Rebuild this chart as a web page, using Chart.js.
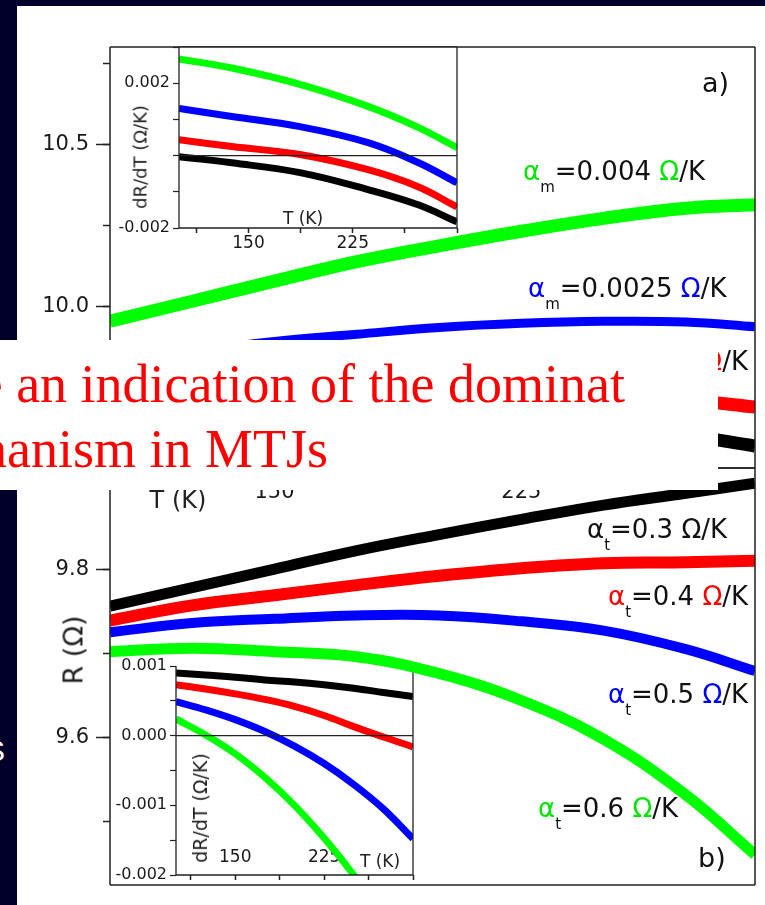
<!DOCTYPE html>
<html>
<head>
<meta charset="utf-8">
<script src="https://cdn.jsdelivr.net/npm/chart.js@4.4.0/dist/chart.umd.min.js"></script>
<style>
html, body { margin: 0; padding: 0; }
body { width: 765px; height: 905px; position: relative; overflow: hidden; background: #00002b; font-family: 'DejaVu Sans', sans-serif; }
#paper { position: absolute; left: 17px; top: 6px; right: 0; bottom: 0; background: #fff; }
canvas { position: absolute; }
.lab { position: absolute; font-size: 26px; line-height: 26px; color: #111; white-space: nowrap; z-index: 5; }
.lab sub { font-size: 15px; line-height: 0; vertical-align: -12px; }
.g { color: #00e600; } .b { color: #0000ff; } .r { color: #ff0000; }
.rot { position: absolute; transform: translate(-50%, -50%) rotate(-90deg); white-space: nowrap; color: #222; z-index: 5; }
.ctr { position: absolute; transform: translate(-50%, -50%); white-space: nowrap; color: #222; z-index: 5; }
#note { position: absolute; left: 0; top: 340px; width: 718px; height: 150px; background: #fff; overflow: hidden; z-index: 10; }
.nl { position: absolute; font-family: 'Liberation Serif', serif; font-size: 54px; line-height: 54px; color: #ff0000; white-space: nowrap; }
</style>
</head>
<body>
<div id="paper"></div>
<div style="position:absolute; left:-15px; top:734px; color:#fff; font:30px 'Liberation Sans';">S</div>

<canvas id="insetB" width="310" height="250" style="left:110px; top:645px; z-index:1"></canvas>
<canvas id="mainB" width="765" height="465" style="left:0; top:440px; z-index:2"></canvas>
<canvas id="mainA" width="765" height="520" style="left:0; top:0; z-index:3"></canvas>
<canvas id="insetA" width="350" height="232" style="left:115px; top:30px; z-index:4"></canvas>

<!-- curve labels -->
<div class="lab" style="left:702px; top:69px; font-size:27px; line-height:27px;">a)</div>
<div class="lab" style="left:698px; top:844px; font-size:27px; line-height:27px;">b)</div>
<div class="lab" style="left:523px; top:158px;"><span class="g">α</span><sub>m</sub>=0.004 <span class="g">Ω</span>/K</div>
<div class="lab" style="left:528px; top:275px;"><span class="b">α</span><sub>m</sub>=0.0025 <span class="b">Ω</span>/K</div>
<div class="lab" style="left:566px; top:348px;"><span class="r">α</span><sub>m</sub>=0.001 <span class="r">Ω</span>/K</div>
<div class="lab" style="left:587px; top:516px;">α<sub>t</sub>=0.3 Ω/K</div>
<div class="lab" style="left:608px; top:583px;"><span class="r">α</span><sub>t</sub>=0.4 <span class="r">Ω</span>/K</div>
<div class="lab" style="left:608px; top:681px;"><span class="b">α</span><sub>t</sub>=0.5 <span class="b">Ω</span>/K</div>
<div class="lab" style="left:538px; top:795px;"><span class="g">α</span><sub>t</sub>=0.6 <span class="g">Ω</span>/K</div>

<!-- axis titles -->
<div class="rot" style="left:73px; top:650px; font-size:27px;">R (Ω)</div>
<div class="rot" style="left:140px; top:157px; font-size:18px;">dR/dT (Ω/K)</div>
<div class="rot" style="left:200px; top:808px; font-size:19px;">dR/dT (Ω/K)</div>
<div class="ctr" style="left:178px; top:500px; font-size:24px;">T (K)</div>
<div class="ctr" style="left:303px; top:218px; font-size:17px;">T (K)</div>
<div class="ctr" style="left:380px; top:861px; font-size:17px;">T (K)</div>

<div id="note">
  <div class="nl" style="top:17px; right:93px;">could be an indication of the dominat</div>
  <div class="nl" style="top:82px; right:390px;">scattering mechanism in MTJs</div>
</div>

<script>
// temperature grid of the main panels (K)
const tMain = [100, 125, 150, 175, 200, 225, 250, 275, 296];
// panel a) R (Ohm)
const aGreen = [9.953, 10.015, 10.077, 10.137, 10.186, 10.231, 10.271, 10.302, 10.313];
const aBlue  = [9.833, 9.860, 9.891, 9.913, 9.934, 9.947, 9.953, 9.951, 9.936];
const aRed   = [9.725, 9.734, 9.741, 9.744, 9.744, 9.739, 9.728, 9.711, 9.688];
const aBlack = [9.702, 9.700, 9.695, 9.685, 9.674, 9.655, 9.631, 9.601, 9.568];
// panel b) R (Ohm)
const bBlack = [9.756, 9.778, 9.800, 9.822, 9.841, 9.859, 9.876, 9.890, 9.902];
const bRed   = [9.739, 9.757, 9.769, 9.781, 9.792, 9.801, 9.807, 9.808, 9.810];
const bBlue  = [9.725, 9.736, 9.741, 9.745, 9.745, 9.738, 9.727, 9.705, 9.679];
const bGreen = [9.702, 9.706, 9.702, 9.696, 9.676, 9.644, 9.598, 9.532, 9.461];

// inset a) dR/dT (Ohm/K)
const tInsA   = [100, 138, 187, 236, 272, 300];
const iaGreen = [0.00267, 0.00242, 0.00197, 0.00136, 0.00078, 0.00022];
const iaBlue  = [0.0013, 0.00108, 0.0008, 0.00036, -0.00019, -0.00075];
const iaRed   = [0.00044, 0.00025, 0.00003, -0.00039, -0.00086, -0.00142];
const iaBlack = [-0.00003, -0.0002, -0.00047, -0.00094, -0.00136, -0.00183];
// inset b) dR/dT (Ohm/K)
const tInsB   = [100, 125, 150, 175, 200, 225, 250, 275, 300];
const ibBlack = [0.0009, 0.00087, 0.00084, 0.0008, 0.00077, 0.00073, 0.00068, 0.00062, 0.00056];
const ibRed   = [0.00073, 0.00067, 0.0006, 0.00052, 0.00042, 0.00029, 0.00013, -0.00002, -0.00016];
const ibBlue  = [0.00049, 0.00037, 0.00023, 0.00006, -0.00015, -0.0004, -0.0007, -0.00105, -0.00148];
const ibGreen = [0.00024, 0.00001, -0.00026, -0.0006, -0.001, -0.00147, -0.002, -0.0026];

const tLabelled = [150, 225];

Chart.defaults.font.family = "'DejaVu Sans', sans-serif";
Chart.defaults.color = '#1a1a1a';

// draws the box round the plot area, the zero line and the white inset background
const framePlugin = {
    id: 'frame',
    beforeDraw(chart, args, opts) {
        if (!opts.fill) return;
        const a = chart.chartArea, c = chart.ctx;
        c.save();
        c.fillStyle = opts.fill;
        c.fillRect(a.left, a.top, a.right - a.left, a.bottom - a.top);
        c.restore();
    },
    afterDatasetsDraw(chart, args, opts) {
        const a = chart.chartArea, c = chart.ctx, s = opts.sides || '';
        c.save();
        c.strokeStyle = '#222';
        c.lineWidth = opts.width || 1.5;
        c.beginPath();
        if (opts.zero) {
            const y0 = chart.scales.y.getPixelForValue(0);
            c.moveTo(a.left, y0); c.lineTo(a.right, y0);
        }
        if (s.includes('t')) { c.moveTo(a.left, a.top); c.lineTo(a.right, a.top); }
        if (s.includes('b')) { c.moveTo(a.left, a.bottom); c.lineTo(a.right, a.bottom); }
        if (s.includes('l')) { c.moveTo(a.left, a.top); c.lineTo(a.left, a.bottom); }
        if (s.includes('r')) { c.moveTo(a.right, a.top); c.lineTo(a.right, a.bottom); }
        c.stroke();
        c.restore();
    }
};

function line(ts, vs, color, w) {
    return {
        data: vs.map((v, i) => ({ x: ts[i], y: v })),
        borderColor: color,
        backgroundColor: color,
        borderWidth: w,
        pointRadius: 0,
        tension: 0.4,
        clip: 0
    };
}

const fixW = w => s => { s.width = w; };
const fixH = h => s => { s.height = h; };

const common = {
    responsive: false,
    animation: false,
    devicePixelRatio: 1,
    events: [],
};

function tAxis(extra) {
    return Object.assign({
        type: 'linear', min: 100, max: 296,
        ticks: {
            stepSize: 37.5, includeBounds: false, autoSkip: false, maxRotation: 0,
            callback: v => tLabelled.includes(v) ? String(v) : ''
        },
        grid: { drawOnChartArea: false, tickLength: 8, tickColor: '#222', tickWidth: 1.5 },
        border: { display: false }
    }, extra);
}

function rAxes(min, max, major, minor) {
    return {
        y: {
            position: 'left', weight: 1, min: min, max: max,
            ticks: { stepSize: major, includeBounds: false, autoSkip: false, padding: 7,
                font: { size: 21 }, callback: v => v.toFixed(1) },
            grid: { drawOnChartArea: false, tickLength: 14, tickColor: '#222', tickWidth: 1.5 },
            border: { display: false },
            afterFit: fixW(110)
        },
        yMinor: {
            position: 'left', weight: 0, min: min, max: max,
            ticks: { stepSize: minor, includeBounds: false, autoSkip: false, callback: () => '' },
            grid: { drawOnChartArea: false, tickLength: 7, tickColor: '#222', tickWidth: 1.5 },
            border: { display: false },
            afterFit: fixW(0)
        }
    };
}

// panel a)
const xA = tAxis({ afterFit: fixH(52) });
xA.ticks.padding = 4;
xA.ticks.font = { size: 21 };
new Chart(document.getElementById('mainA'), {
    type: 'line',
    data: { datasets: [
        line(tMain, aBlack, '#000000', 13),
        line(tMain, aRed, '#ff0000', 13),
        line(tMain, aBlue, '#0000ff', 9),
        line(tMain, aGreen, '#00ff00', 13)
    ] },
    options: Object.assign({}, common, {
        layout: { padding: { top: 47, right: 10, left: 0, bottom: 0 }, autoPadding: false },
        plugins: { legend: { display: false }, tooltip: { enabled: false }, frame: { sides: 'tlbr' } },
        scales: Object.assign({ x: xA }, rAxes(9.5, 10.8, 0.5, 0.25))
    }),
    plugins: [framePlugin]
});

// panel b)
new Chart(document.getElementById('mainB'), {
    type: 'line',
    data: { datasets: [
        line(tMain, bBlack, '#000000', 11),
        line(tMain, bRed, '#ff0000', 12),
        line(tMain, bBlue, '#0000ff', 10),
        line(tMain, bGreen, '#00ff00', 11)
    ] },
    options: Object.assign({}, common, {
        layout: { padding: { top: 28, right: 10, left: 0, bottom: 20 }, autoPadding: false },
        plugins: { legend: { display: false }, tooltip: { enabled: false }, frame: { sides: 'tlbr' } },
        scales: Object.assign({ x: { type: 'linear', min: 100, max: 296, display: false } },
            rAxes(9.425, 9.92, 0.2, 0.1))
    }),
    plugins: [framePlugin]
});

// inset axes
function insetY(min, max, step, width, show) {
    return {
        min: min, max: max,
        ticks: { stepSize: step, includeBounds: false, autoSkip: false, padding: 3,
            font: { size: 16 }, callback: v => show(v) ? v.toFixed(3) : '' },
        grid: { drawOnChartArea: false, tickLength: 6, tickColor: '#222', tickWidth: 1.2 },
        border: { display: false },
        afterFit: fixW(width)
    };
}

const xIa = tAxis({ max: 300, afterFit: fixH(34) });
xIa.ticks.padding = 0;
xIa.ticks.font = { size: 17 };
xIa.grid.tickLength = 5;
new Chart(document.getElementById('insetA'), {
    type: 'line',
    data: { datasets: [
        line(tInsA, iaBlack, '#000000', 7),
        line(tInsA, iaRed, '#ff0000', 7),
        line(tInsA, iaBlue, '#0000ff', 7),
        line(tInsA, iaGreen, '#00ff00', 7)
    ] },
    options: Object.assign({}, common, {
        layout: { padding: { top: 17, right: 8, left: 0, bottom: 0 }, autoPadding: false },
        plugins: { legend: { display: false }, tooltip: { enabled: false },
            frame: { sides: 'tlbr', fill: '#ffffff', zero: true, width: 1.3 } },
        scales: {
            x: xIa,
            y: insetY(-0.002, 0.003, 0.001, 64, v => Math.abs(Math.abs(v) - 0.002) < 1e-9)
        }
    }),
    plugins: [framePlugin]
});

// inset b) has its T labels inside the plot, so they are mirrored
const xIb = tAxis({ max: 300, afterFit: fixH(20) });
xIb.ticks.mirror = true;
xIb.ticks.padding = 7;
xIb.ticks.font = { size: 17 };
xIb.grid.tickLength = 5;
new Chart(document.getElementById('insetB'), {
    type: 'line',
    data: { datasets: [
        line(tInsB, ibBlack, '#000000', 7),
        line(tInsB, ibRed, '#ff0000', 7),
        line(tInsB, ibBlue, '#0000ff', 7),
        line(tInsB.slice(0, ibGreen.length), ibGreen, '#00ff00', 7)
    ] },
    options: Object.assign({}, common, {
        layout: { padding: { top: 21, right: 7, left: 0, bottom: 0 }, autoPadding: false },
        plugins: { legend: { display: false }, tooltip: { enabled: false },
            frame: { sides: 'lbr', fill: '#ffffff', zero: true, width: 1.3 } },
        scales: {
            x: xIb,
            y: insetY(-0.002, 0.001, 0.0005, 66, v => Math.abs(v * 1000 - Math.round(v * 1000)) < 1e-6)
        }
    }),
    plugins: [framePlugin]
});
</script>
</body>
</html>
